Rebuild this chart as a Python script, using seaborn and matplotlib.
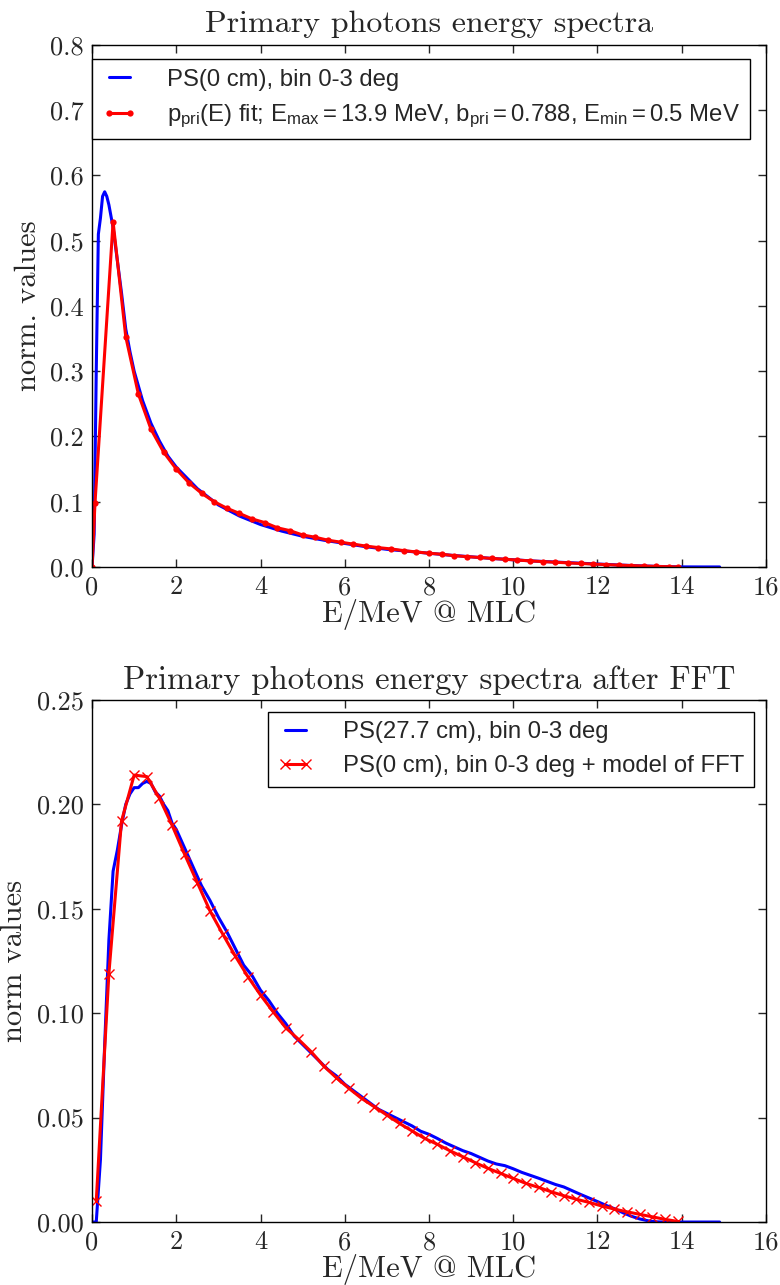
import warnings
import matplotlib
matplotlib.use("Agg")
import matplotlib.pyplot as plt
import seaborn as sns

warnings.filterwarnings("ignore", message="cmr10 font")

# Espectro primario en el plano PS(0 cm), bin 0-3 deg
e_ps0 = [0.0, 0.05, 0.1, 0.15, 0.2, 0.25, 0.3, 0.35, 0.4, 0.5, 0.6, 0.7, 0.8, 0.9, 1.0,
         1.2, 1.4, 1.6, 1.8, 2.0, 2.5, 3.0, 3.5, 4.0, 4.5, 5.0, 5.5, 6.0, 6.5, 7.0,
         7.5, 8.0, 8.5, 9.0, 9.5, 10.0, 10.5, 11.0, 11.5, 12.0, 12.5, 13.0, 13.5, 14.0,
         14.5, 14.9]
v_ps0 = [0.0, 0.05, 0.3, 0.51, 0.535, 0.568, 0.575, 0.568, 0.555, 0.52, 0.47, 0.42, 0.365,
         0.33, 0.3, 0.255, 0.22, 0.193, 0.17, 0.153, 0.12, 0.095, 0.078, 0.065, 0.055,
         0.047, 0.041, 0.036, 0.031, 0.027, 0.024, 0.021, 0.018, 0.0155, 0.013, 0.011,
         0.009, 0.0075, 0.006, 0.0045, 0.003, 0.0017, 0.0007, 0.0001, 0.0, 0.0]

# Ajuste p_pri(E)
e_fit = [0.0, 0.07, 0.5, 0.8, 1.1, 1.4, 1.7, 2.0, 2.3, 2.6, 2.9, 3.2, 3.5, 3.8, 4.1, 4.4,
         4.7, 5.0, 5.3, 5.6, 5.9, 6.2, 6.5, 6.8, 7.1, 7.4, 7.7, 8.0, 8.3, 8.6, 8.9, 9.2,
         9.5, 9.8, 10.1, 10.4, 10.7, 11.0, 11.3, 11.6, 11.9, 12.2, 12.5, 12.8, 13.1,
         13.4, 13.7, 13.9]
v_fit = [0.0, 0.098, 0.529, 0.353, 0.265, 0.211, 0.176, 0.150, 0.129, 0.113, 0.100, 0.090,
         0.082, 0.0736, 0.068, 0.060, 0.0556, 0.049, 0.0455, 0.041, 0.038, 0.035, 0.032,
         0.0296, 0.0276, 0.025, 0.023, 0.021, 0.0195, 0.0173, 0.0158, 0.0145, 0.013,
         0.0118, 0.0105, 0.0093, 0.0082, 0.0072, 0.0062, 0.0053, 0.0044, 0.0036, 0.0028,
         0.0021, 0.0014, 0.0008, 0.0003, 0.0]

# Espectro tras el filtro aplanador PS(27.7 cm)
e_ps27 = [0.0, 0.1, 0.2, 0.3, 0.4, 0.5, 0.6, 0.7, 0.8, 0.9, 1.0, 1.1, 1.2, 1.3, 1.4, 1.5,
          1.6, 1.7, 1.8, 1.9, 2.0, 2.2, 2.4, 2.6, 2.8, 3.0, 3.2, 3.4, 3.6, 3.8, 4.0, 4.2,
          4.4, 4.6, 4.8, 5.0, 5.2, 5.4, 5.6, 5.8, 6.0, 6.2, 6.4, 6.6, 6.8, 7.0, 7.2, 7.4,
          7.6, 7.8, 8.0, 8.2, 8.4, 8.6, 8.8, 9.0, 9.2, 9.4, 9.6, 9.8, 10.0, 10.2, 10.4,
          10.6, 10.8, 11.0, 11.2, 11.4, 11.6, 11.8, 12.0, 12.2, 12.4, 12.6, 12.8, 13.0,
          13.2, 13.4, 13.6, 14.0, 14.4, 14.9]
v_ps27 = [0.0, 0.0, 0.03, 0.085, 0.135, 0.168, 0.178, 0.19, 0.2, 0.205, 0.208, 0.208,
          0.21, 0.211, 0.21, 0.206, 0.204, 0.2, 0.197, 0.191, 0.188, 0.179, 0.17, 0.161,
          0.154, 0.146, 0.139, 0.131, 0.123, 0.118, 0.111, 0.106, 0.1, 0.095, 0.089,
          0.085, 0.081, 0.077, 0.073, 0.07, 0.066, 0.063, 0.06, 0.057, 0.054, 0.052,
          0.05, 0.048, 0.046, 0.0435, 0.042, 0.040, 0.0378, 0.036, 0.0342, 0.0328,
          0.031, 0.0292, 0.0278, 0.027, 0.0255, 0.0238, 0.0224, 0.021, 0.0195, 0.018,
          0.0168, 0.015, 0.0132, 0.0115, 0.0098, 0.008, 0.0064, 0.0045, 0.0028, 0.0015,
          0.0006, 0.0001, 0.0, 0.0, 0.0, 0.0]

# PS(0 cm) + modelo del FFT
e_mod = [0.1, 0.4, 0.7, 1.0, 1.3, 1.6, 1.9, 2.2, 2.5, 2.8, 3.1, 3.4, 3.7, 4.0, 4.3, 4.6,
         4.9, 5.2, 5.5, 5.8, 6.1, 6.4, 6.7, 7.0, 7.3, 7.6, 7.9, 8.2, 8.5, 8.8, 9.1, 9.4,
         9.7, 10.0, 10.3, 10.6, 10.9, 11.2, 11.5, 11.8, 12.1, 12.4, 12.7, 13.0, 13.3,
         13.6, 13.9]
v_mod = [0.010, 0.119, 0.192, 0.214, 0.2133, 0.203, 0.190, 0.176, 0.1625, 0.149, 0.138,
         0.1274, 0.1175, 0.1087, 0.1007, 0.093, 0.0875, 0.0816, 0.0747, 0.0691, 0.064,
         0.0592, 0.0552, 0.0512, 0.0472, 0.0436, 0.040, 0.0372, 0.0341, 0.0313, 0.0284,
         0.0257, 0.0233, 0.0209, 0.0185, 0.0166, 0.0145, 0.0126, 0.0109, 0.0094, 0.0077,
         0.0062, 0.0049, 0.0037, 0.0025, 0.0013, 0.0003]

sns.set_style("ticks")
plt.rcParams['font.family'] = ['cmr10', 'DejaVu Serif']
plt.rcParams['mathtext.fontset'] = 'custom'
plt.rcParams['mathtext.rm'] = 'Liberation Sans'
plt.rcParams['mathtext.it'] = 'Liberation Sans:italic'
plt.rcParams['mathtext.sf'] = 'Liberation Sans'
plt.rcParams['axes.linewidth'] = 1.0

fig = plt.figure(figsize=(7.8, 12.85), dpi=100)
ax1 = fig.add_axes([0.118, 0.5588, 0.864, 0.4062])
ax2 = fig.add_axes([0.118, 0.049, 0.864, 0.4063])

leg_font = {'family': ['Liberation Sans', 'DejaVu Sans'], 'size': 17.2}

# Gráfico superior
sns.lineplot(x=e_ps0, y=v_ps0, ax=ax1, color='blue', lw=2.2, sort=False,
             label='PS(0 cm), bin 0-3 deg')
sns.lineplot(x=e_fit, y=v_fit, ax=ax1, color='red', lw=2.2, sort=False, marker='o',
             markersize=4.5, markeredgewidth=0,
             label=r'$\mathrm{p_{pri}(E)}$ fit; $\mathrm{E_{max}} = 13.9$ MeV, '
                   r'$\mathrm{b_{pri}} = 0.788$, $\mathrm{E_{min}} = 0.5$ MeV')
ax1.set_xlim(0, 16)
ax1.set_ylim(0, 0.8)
ax1.set_title('Primary photons energy spectra', fontsize=23, pad=9)
ax1.set_xlabel('E/MeV @ MLC', fontsize=22, labelpad=0)
ax1.set_ylabel('norm. values', fontsize=22, labelpad=6)
leg1 = ax1.legend(loc='upper left', numpoints=2, prop=leg_font, fancybox=False,
                  edgecolor='black', framealpha=1, handlelength=1.5, handletextpad=1.25,
                  labelspacing=0.5, borderaxespad=0, bbox_to_anchor=(0, 1 - 14 / 522))
leg1.get_frame().set_linewidth(1.0)

# Gráfico inferior
sns.lineplot(x=e_ps27, y=v_ps27, ax=ax2, color='blue', lw=2.2, sort=False,
             label='PS(27.7 cm), bin 0-3 deg')
sns.lineplot(x=e_mod, y=v_mod, ax=ax2, color='red', lw=2.2, sort=False, marker='x',
             markersize=7, markeredgewidth=1.0, markeredgecolor='red',
             label='PS(0 cm), bin 0-3 deg + model of FFT')
ax2.set_xlim(0, 16)
ax2.set_ylim(0, 0.25)
ax2.set_title('Primary photons energy spectra after FFT', fontsize=23.5, pad=8)
ax2.set_xlabel('E/MeV @ MLC', fontsize=22, labelpad=0)
ax2.set_ylabel('norm values', fontsize=22, labelpad=6)
leg2 = ax2.legend(loc='upper right', numpoints=2, prop=leg_font, fancybox=False,
                  edgecolor='black', framealpha=1, handlelength=1.5, handletextpad=1.25,
                  labelspacing=0.5, borderaxespad=0.5)
leg2.get_frame().set_linewidth(1.0)

for ax in (ax1, ax2):
    ax.tick_params(direction='in', top=True, right=True, labelsize=19,
                   length=6, width=1, pad=6)
    for s in ax.spines.values():
        s.set_visible(True)
        s.set_color('black')

fig.savefig('out.png', dpi=100)
